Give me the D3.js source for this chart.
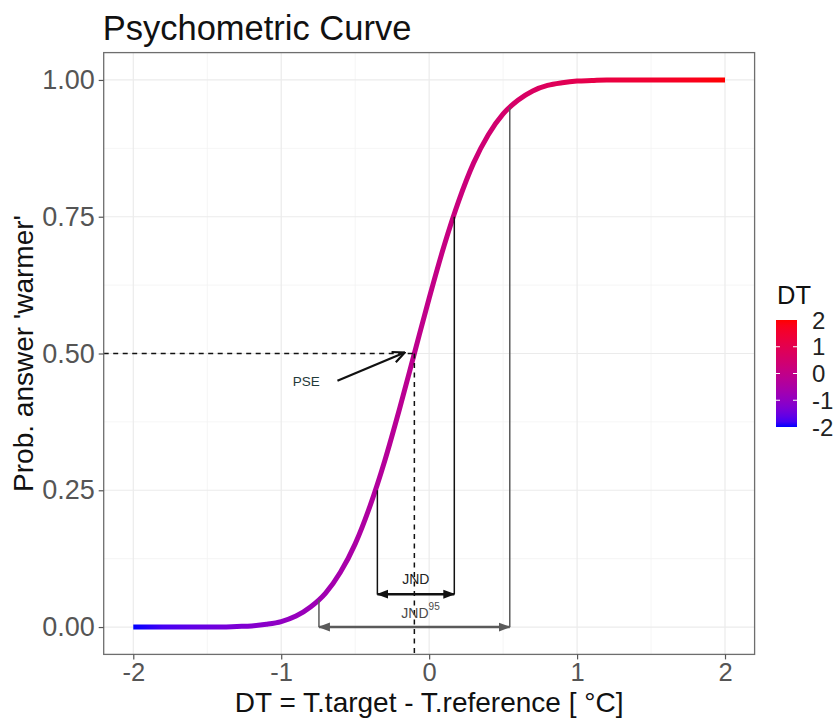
<!DOCTYPE html>
<html>
<head>
<meta charset="utf-8">
<script src="https://cdn.jsdelivr.net/npm/d3@7"></script>
<style>
  html, body { margin: 0; padding: 0; background: #ffffff; }
  svg { display: block; font-family: "Liberation Sans", Arial, Helvetica, sans-serif; }
</style>
</head>
<body>
<svg id="chart" width="836" height="718"></svg>
<script>
// ---------------- data ----------------
const dtValues = [-2.0,-1.9,-1.8,-1.7,-1.6,-1.5,-1.4,-1.3,-1.2,-1.1,-1.0,-0.9,-0.8,-0.7,-0.6,-0.5,-0.4,-0.3,-0.2,-0.1,
                   0.0, 0.1, 0.2, 0.3, 0.4, 0.5, 0.6, 0.7, 0.8, 0.9, 1.0, 1.1, 1.2, 1.3, 1.4, 1.5, 1.6, 1.7, 1.8, 1.9, 2.0];
const probValues = [0.000,0.000,0.000,0.000,0.000,0.000,0.000,0.001,0.002,0.005,0.010,0.020,0.037,0.062,0.100,0.152,0.221,0.304,0.399,0.500,
                    0.601,0.696,0.779,0.848,0.900,0.938,0.963,0.980,0.990,0.995,0.998,0.999,1.000,1.000,1.000,1.000,1.000,1.000,1.000,1.000,1.000];

const xTicks = [-2, -1, 0, 1, 2];
const xTickLabels = ["-2", "-1", "0", "1", "2"];
const yTicks = [0, 0.25, 0.5, 0.75, 1];
const yTickLabels = ["0.00", "0.25", "0.50", "0.75", "1.00"];
const legendTicks = [2, 1, 0, -1, -2];
const legendTickLabels = ["2", "1", "0", "-1", "-2"];

// annotation values
const pseX = -0.10, pseP = 0.50;
const jndLowX = -0.35, jndLowP = 0.25;
const jndHighX = 0.17, jndHighP = 0.75;
const jndArrowP = 0.06;
const jnd95LowX = -0.745, jnd95LowP = 0.05;
const jnd95HighX = 0.545, jnd95HighP = 0.95;
const jnd95ArrowP = 0.0;

const titleText = "Psychometric Curve";
const xTitle = "DT = T.target - T.reference [ °C]";
const yTitle = "Prob. answer 'warmer'";
const legendTitle = "DT";

// ---------------- layout ----------------
const panel = { left: 103.7, right: 754.6, top: 52.6, bottom: 654.4 };
const svg = d3.select("#chart");

const x = d3.scaleLinear().domain([-2.2, 2.2]).range([panel.left, panel.right]);
const y = d3.scaleLinear().domain([-0.05, 1.05]).range([panel.bottom, panel.top]);
const colorInterp = d3.interpolateLab("blue", "red");

// ---------------- defs ----------------
const defs = svg.append("defs");
const lg = defs.append("linearGradient").attr("id", "lineGrad")
  .attr("gradientUnits", "userSpaceOnUse")
  .attr("x1", x(-2)).attr("x2", x(2)).attr("y1", 0).attr("y2", 0);
d3.range(0, 1.0001, 0.05).forEach(t => {
  lg.append("stop").attr("offset", t).attr("stop-color", colorInterp(t));
});
const lg2 = defs.append("linearGradient").attr("id", "barGrad")
  .attr("x1", 0).attr("x2", 0).attr("y1", 1).attr("y2", 0);
d3.range(0, 1.0001, 0.05).forEach(t => {
  lg2.append("stop").attr("offset", t).attr("stop-color", colorInterp(t));
});
function closedMarker(id, col) {
  defs.append("marker").attr("id", id)
    .attr("markerUnits", "userSpaceOnUse")
    .attr("viewBox", "0 0 12 10")
    .attr("refX", 11).attr("refY", 5)
    .attr("markerWidth", 12).attr("markerHeight", 10)
    .attr("orient", "auto-start-reverse")
    .append("path").attr("d", "M0,0.5 L12,5 L0,9.5 Z").attr("fill", col);
}
closedMarker("arrBlack", "#111");
closedMarker("arrGrey", "#5a5a5a");
defs.append("marker").attr("id", "arrOpen")
  .attr("markerUnits", "userSpaceOnUse")
  .attr("viewBox", "0 0 14 14").attr("refX", 13).attr("refY", 7)
  .attr("markerWidth", 14).attr("markerHeight", 14).attr("orient", "auto")
  .append("path").attr("d", "M1,1.5 L13,7 L1,12.5")
  .attr("fill", "none").attr("stroke", "#111").attr("stroke-width", 2.2);

// ---------------- grid ----------------
const grid = svg.append("g");
const xMinor = [-1.5, -0.5, 0.5, 1.5];
const yMinor = [0.125, 0.375, 0.625, 0.875];
grid.selectAll(".xminor").data(xMinor).join("line")
  .attr("x1", d => x(d)).attr("x2", d => x(d)).attr("y1", panel.top).attr("y2", panel.bottom)
  .attr("stroke", "#f3f3f3").attr("stroke-width", 0.8);
grid.selectAll(".yminor").data(yMinor).join("line")
  .attr("y1", d => y(d)).attr("y2", d => y(d)).attr("x1", panel.left).attr("x2", panel.right)
  .attr("stroke", "#f3f3f3").attr("stroke-width", 0.8);
grid.selectAll(".xmajor").data(xTicks).join("line")
  .attr("x1", d => x(d)).attr("x2", d => x(d)).attr("y1", panel.top).attr("y2", panel.bottom)
  .attr("stroke", "#ebebeb").attr("stroke-width", 1.2);
grid.selectAll(".ymajor").data(yTicks).join("line")
  .attr("y1", d => y(d)).attr("y2", d => y(d)).attr("x1", panel.left).attr("x2", panel.right)
  .attr("stroke", "#ebebeb").attr("stroke-width", 1.2);

// ---------------- curve ----------------
const pts = dtValues.map((d, i) => [d, probValues[i]]);
const lineGen = d3.line().x(d => x(d[0])).y(d => y(d[1])).curve(d3.curveMonotoneX);
svg.append("path").attr("d", lineGen(pts))
  .attr("fill", "none").attr("stroke", "url(#lineGrad)").attr("stroke-width", 5);

// ---------------- annotations ----------------
const ann = svg.append("g");
ann.append("line").attr("x1", panel.left).attr("x2", x(pseX)).attr("y1", y(pseP)).attr("y2", y(pseP))
  .attr("stroke", "#111").attr("stroke-width", 1.5).attr("stroke-dasharray", "5,4.5");
ann.append("line").attr("x1", x(pseX)).attr("x2", x(pseX)).attr("y1", y(pseP)).attr("y2", panel.bottom)
  .attr("stroke", "#111").attr("stroke-width", 1.5).attr("stroke-dasharray", "5,4.5");
ann.append("line").attr("x1", x(-0.62)).attr("y1", y(0.45)).attr("x2", x(-0.165)).attr("y2", y(0.502))
  .attr("stroke", "#111").attr("stroke-width", 2.2).attr("marker-end", "url(#arrOpen)");
ann.append("text").attr("x", x(-0.83)).attr("y", y(0.448)).attr("text-anchor", "middle")
  .attr("dominant-baseline", "middle")
  .attr("font-size", 13.5).attr("fill", "#1f3a3a").text("PSE");

ann.append("line").attr("x1", x(jndLowX)).attr("x2", x(jndLowX)).attr("y1", y(jndLowP)).attr("y2", y(jndArrowP))
  .attr("stroke", "#111").attr("stroke-width", 1.5);
ann.append("line").attr("x1", x(jndHighX)).attr("x2", x(jndHighX)).attr("y1", y(jndHighP)).attr("y2", y(jndArrowP))
  .attr("stroke", "#111").attr("stroke-width", 1.5);
ann.append("line").attr("x1", x(jndLowX)).attr("x2", x(jndHighX)).attr("y1", y(jndArrowP)).attr("y2", y(jndArrowP))
  .attr("stroke", "#111").attr("stroke-width", 2.4)
  .attr("marker-start", "url(#arrBlack)").attr("marker-end", "url(#arrBlack)");
ann.append("text").attr("x", x((jndLowX + jndHighX) / 2)).attr("y", y(jndArrowP) - 10)
  .attr("text-anchor", "middle").attr("font-size", 14).attr("fill", "#222").text("JND");

ann.append("line").attr("x1", x(jnd95LowX)).attr("x2", x(jnd95LowX)).attr("y1", y(jnd95LowP)).attr("y2", y(jnd95ArrowP))
  .attr("stroke", "#5a5a5a").attr("stroke-width", 1.5);
ann.append("line").attr("x1", x(jnd95HighX)).attr("x2", x(jnd95HighX)).attr("y1", y(jnd95HighP)).attr("y2", y(jnd95ArrowP))
  .attr("stroke", "#5a5a5a").attr("stroke-width", 1.5);
ann.append("line").attr("x1", x(jnd95LowX)).attr("x2", x(jnd95HighX)).attr("y1", y(jnd95ArrowP)).attr("y2", y(jnd95ArrowP))
  .attr("stroke", "#5a5a5a").attr("stroke-width", 2.4)
  .attr("marker-start", "url(#arrGrey)").attr("marker-end", "url(#arrGrey)");
const j95 = ann.append("text").attr("x", x((jnd95LowX + jnd95HighX) / 2) - 13).attr("y", y(jnd95ArrowP) - 9)
  .attr("font-size", 14).attr("fill", "#4a4a4a");
j95.append("tspan").text("JND");
j95.append("tspan").attr("dy", -8).attr("font-size", 10).text("95");

// ---------------- panel border & axes ----------------
svg.append("rect").attr("x", panel.left).attr("y", panel.top)
  .attr("width", panel.right - panel.left).attr("height", panel.bottom - panel.top)
  .attr("fill", "none").attr("stroke", "#6e6e6e").attr("stroke-width", 1.3);

const xAxis = d3.axisBottom(x).tickValues(xTicks).tickSize(5).tickPadding(3.5)
  .tickFormat((d, i) => xTickLabels[i]);
const gx = svg.append("g").attr("transform", `translate(0,${panel.bottom})`).call(xAxis);
const yAxis = d3.axisLeft(y).tickValues(yTicks).tickSize(5).tickPadding(4)
  .tickFormat((d, i) => yTickLabels[i]);
const gy = svg.append("g").attr("transform", `translate(${panel.left},0)`).call(yAxis);
[gx, gy].forEach(g => {
  g.select(".domain").remove();
  g.selectAll(".tick line").attr("stroke", "#555").attr("stroke-width", 1.2);
  g.selectAll(".tick text").attr("fill", "#555")
    .attr("font-family", "'Liberation Sans', Arial, sans-serif");
});
gx.selectAll(".tick text").attr("font-size", 25.5);
gy.selectAll(".tick text").attr("font-size", 27);

// ---------------- titles ----------------
svg.append("text").attr("x", panel.left - 1).attr("y", 40).attr("font-size", 34.5).attr("fill", "#111")
  .text(titleText);
svg.append("text").attr("x", (panel.left + panel.right) / 2).attr("y", 711.8)
  .attr("text-anchor", "middle").attr("font-size", 28).attr("fill", "#111").text(xTitle);
svg.append("text").attr("transform", `translate(33,${(panel.top + panel.bottom) / 2}) rotate(-90)`)
  .attr("text-anchor", "middle").attr("font-size", 28).attr("fill", "#111").text(yTitle);

// ---------------- legend ----------------
const legY = d3.scaleLinear().domain([-2, 2]).range([427, 320]);
const barX = 776, barW = 21;
svg.append("text").attr("x", barX + 1).attr("y", 304).attr("font-size", 25.5).attr("fill", "#111").text(legendTitle);
svg.append("rect").attr("x", barX).attr("y", legY(2)).attr("width", barW).attr("height", legY(-2) - legY(2))
  .attr("fill", "url(#barGrad)");
const lt = svg.append("g");
lt.selectAll(".tl").data(legendTicks.slice(1, 4)).join("line")
  .attr("x1", barX).attr("x2", barX + 4).attr("y1", d => legY(d)).attr("y2", d => legY(d))
  .attr("stroke", "#fff").attr("stroke-width", 1);
lt.selectAll(".tr").data(legendTicks.slice(1, 4)).join("line")
  .attr("x1", barX + barW - 4).attr("x2", barX + barW).attr("y1", d => legY(d)).attr("y2", d => legY(d))
  .attr("stroke", "#fff").attr("stroke-width", 1);
lt.selectAll("text").data(legendTicks).join("text")
  .attr("x", 812).attr("y", d => legY(d)).attr("dy", "0.36em")
  .attr("font-size", 24).attr("fill", "#222")
  .text((d, i) => legendTickLabels[i]);
</script>
</body>
</html>
